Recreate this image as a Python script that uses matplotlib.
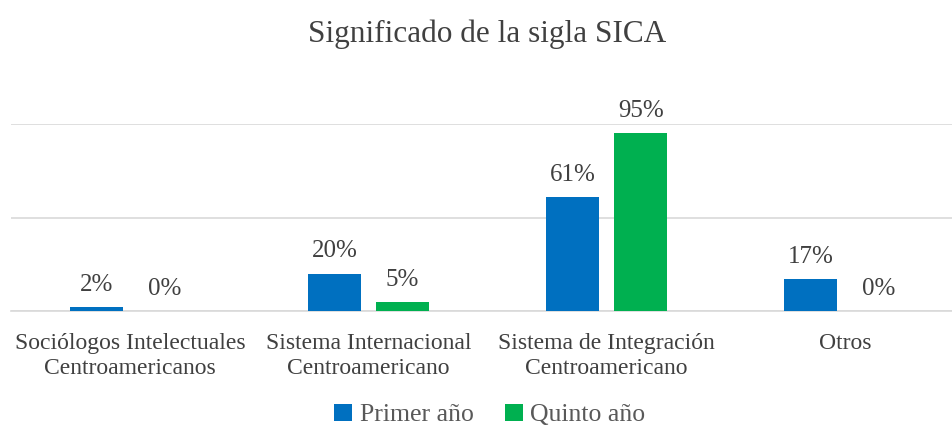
import numpy as np
import matplotlib.pyplot as plt

# datos
categorias = ['Sociólogos Intelectuales\nCentroamericanos',
              'Sistema Internacional\nCentroamericano',
              'Sistema de Integración\nCentroamericano',
              'Otros']
primer_anio = [0.02, 0.20, 0.61, 0.17]
quinto_anio = [0.00, 0.05, 0.95, 0.00]
etiquetas_primer = ['2%', '20%', '61%', '17%']
etiquetas_quinto = ['0%', '5%', '95%', '0%']

azul = '#0070C0'
verde = '#00B050'
gris_txt = '#404040'

plt.rcParams['font.family'] = ['Liberation Serif', 'DejaVu Serif']

fig = plt.figure(figsize=(9.52, 4.32), dpi=100)
ax = fig.add_axes([11/952, 121/432, 941/952, 187/432])

x = np.arange(len(categorias))
ancho = 0.222
desp = 0.143

b1 = ax.bar(x - desp, primer_anio, ancho, color=azul, label='Primer año', zorder=3)
b2 = ax.bar(x + desp, quinto_anio, ancho, color=verde, label='Quinto año', zorder=3)

for barras, etis in ((b1, etiquetas_primer), (b2, etiquetas_quinto)):
    for b, t in zip(barras, etis):
        ax.annotate(t, (b.get_x() + b.get_width()/2, b.get_height()),
                    xytext=(0, 8), textcoords='offset points',
                    ha='center', va='bottom', fontsize=18, color=gris_txt,
                    annotation_clip=False)

ax.set_xlim(-0.5, 3.449)
ax.set_ylim(0, 1.0)
ax.set_yticks([0, 0.5, 1.0])
ax.yaxis.grid(True, color='#d9d9d9', linewidth=1.2, zorder=0)
ax.tick_params(axis='y', left=False, labelleft=False)
ax.tick_params(axis='x', bottom=False, pad=12)
ax.set_xticks(x)
ax.set_xticklabels(categorias, fontsize=17, color=gris_txt, linespacing=1.3)
for s in ['top', 'right', 'left']:
    ax.spines[s].set_visible(False)
ax.spines['bottom'].set_color('#d9d9d9')
ax.spines['bottom'].set_linewidth(1.2)

fig.text(487/952, 1 - 34/432, 'Significado de la sigla SICA', ha='center', va='center',
         fontsize=22.5, color=gris_txt)

fig.legend(loc='center', bbox_to_anchor=(490/952, 1 - 415/432), ncol=2, frameon=False,
           fontsize=18.5, handlelength=0.7, handleheight=0.7, handletextpad=0.3,
           columnspacing=1.2, labelcolor='#595959')

fig.savefig('out.png', dpi=100)
